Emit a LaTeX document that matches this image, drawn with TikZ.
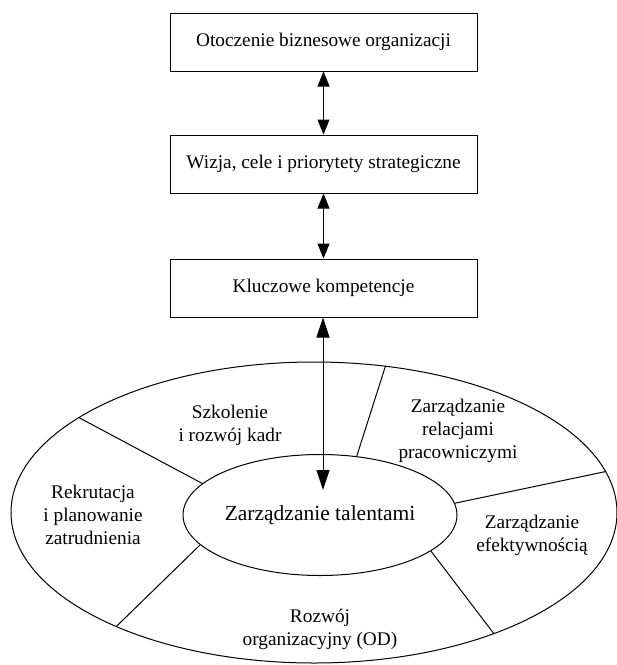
\documentclass[tikz,border=0pt]{standalone}
\usepackage{fontspec}
\setmainfont{Liberation Serif}
\usetikzlibrary{shapes.geometric,arrows.meta}
\tikzset{
  box/.style={draw, line width=1pt, minimum width=307pt, minimum height=58pt, inner sep=0pt,
    font=\fontsize{19.3}{23}\selectfont},
  lbl/.style={align=center, inner sep=0pt, font=\fontsize{19.3}{23}\selectfont},
  dbl/.style={line width=1pt, {Triangle[length=15pt,width=12pt]}-{Triangle[length=15pt,width=12pt]}},
  dblbig/.style={line width=1pt, {Triangle[length=20pt,width=13pt]}-{Triangle[length=20pt,width=13pt]}},
  ring/.style={draw, line width=1pt, ellipse, inner sep=0pt},
  divider/.style={line width=1pt}
}
\begin{document}
\begin{tikzpicture}[x=1pt,y=-1pt]
\useasboundingbox (0,0) rectangle (617,665);
\node[box] (b1) at (323.5,42) {Otoczenie biznesowe organizacji};
\node[box] (b2) at (323.5,164) {Wizja, cele i priorytety strategiczne};
\node[box] (b3) at (323.5,288) {Kluczowe kompetencje};
\node[ring, minimum width=606pt, minimum height=301pt] (outer) at (314,512.5) {};
\node[ring, minimum width=274pt, minimum height=121pt, font=\fontsize{21.5}{25}\selectfont] (inner) at (320,515) {Zarządzanie talentami};
\coordinate (tip) at (323,490);
\draw[dbl] (b1.south) -- (b2.north);
\draw[dbl] (b2.south) -- (b3.north);
\draw[dblbig] (b3.south -| tip) -- (tip);
\draw[divider] (outer.158.6) -- (inner.165.1);
\draw[divider] (inner.194.9) -- (outer.210.8);
\draw[divider] (outer.64) -- (inner.58.3);
\draw[divider] (inner.5.4) -- (outer.8.1);
\draw[divider] (inner.342.6) -- (outer.326.6);
\node[lbl] (l1) at (230,425) {Szkolenie\\i rozwój kadr};
\node[lbl] (l2) at (93,515) {Rekrutacja\\i planowanie\\zatrudnienia};
\node[lbl] (l3) at (458,431) {Zarządzanie\\relacjami\\pracowniczymi};
\node[lbl] (l4) at (532,535) {Zarządzanie\\efektywnością};
\node[lbl] (l5) at (320,629) {Rozwój\\organizacyjny (OD)};
\end{tikzpicture}
\end{document}
